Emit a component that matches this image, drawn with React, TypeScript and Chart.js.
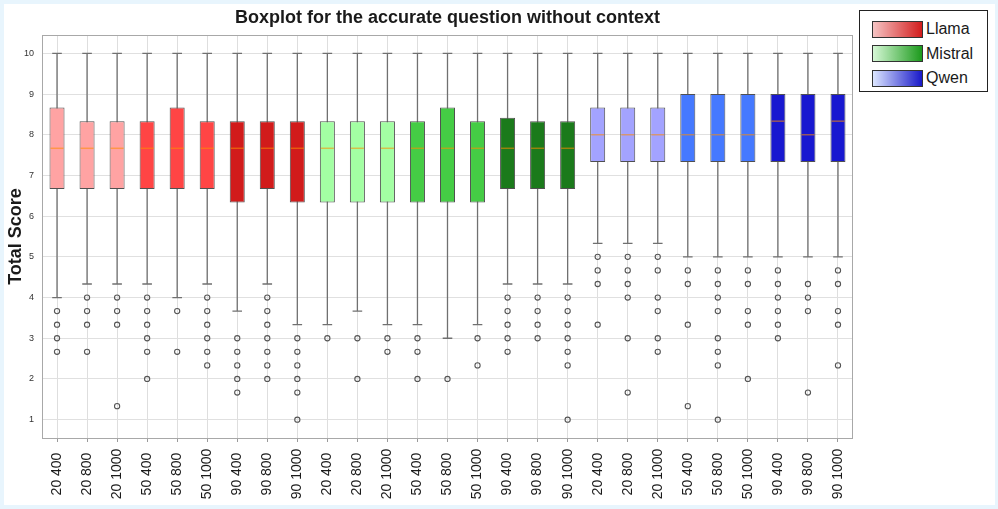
import React, { useEffect, useRef } from "react";
import { Chart, registerables } from "chart.js";

Chart.register(...registerables);

const categories = [
  "20 400", "20 800", "20 1000", "50 400", "50 800", "50 1000", "90 400", "90 800", "90 1000",
  "20 400", "20 800", "20 1000", "50 400", "50 800", "50 1000", "90 400", "90 800", "90 1000",
  "20 400", "20 800", "20 1000", "50 400", "50 800", "50 1000", "90 400", "90 800", "90 1000",
];

const q1 = [
  6.667, 6.667, 6.667, 6.667, 6.667, 6.667, 6.333, 6.667, 6.333,
  6.333, 6.333, 6.333, 6.333, 6.333, 6.333, 6.667, 6.667, 6.667,
  7.333, 7.333, 7.333, 7.333, 7.333, 7.333, 7.333, 7.333, 7.333,
];
const q3 = [
  8.667, 8.333, 8.333, 8.333, 8.667, 8.333, 8.333, 8.333, 8.333,
  8.333, 8.333, 8.333, 8.333, 8.667, 8.333, 8.417, 8.333, 8.333,
  8.667, 8.667, 8.667, 9, 9, 9, 9, 9, 9,
];
const medians = [
  7.667, 7.667, 7.667, 7.667, 7.667, 7.667, 7.667, 7.667, 7.667,
  7.667, 7.667, 7.667, 7.667, 7.667, 7.667, 7.667, 7.667, 7.667,
  8, 8, 8, 8, 8, 8, 8.333, 8, 8.333,
];
const whiskerLow = [
  4, 4.333, 4.333, 4.333, 4, 4.333, 3.667, 4.333, 3.333,
  3.333, 3.667, 3.333, 3.333, 3, 3.333, 4.333, 4.333, 4.333,
  5.333, 5.333, 5.333, 5, 5, 5, 5, 5, 5,
];
const whiskerHigh = [
  10, 10, 10, 10, 10, 10, 10, 10, 10,
  10, 10, 10, 10, 10, 10, 10, 10, 10,
  10, 10, 10, 10, 10, 10, 10, 10, 10,
];
const outliers: number[][] = [
  [3.667, 3.333, 3, 2.667],
  [4, 3.667, 3.333, 2.667],
  [4, 3.667, 3.333, 1.333],
  [4, 3.667, 3.333, 3, 2.667, 2],
  [3.667, 2.667],
  [4, 3.667, 3.333, 3, 2.667, 2.333],
  [3, 2.667, 2.333, 2, 1.667],
  [4, 3.667, 3.333, 3, 2.667, 2.333, 2],
  [3, 2.667, 2.333, 2, 1.667, 1],
  [3],
  [3, 2],
  [3, 2.667],
  [3, 2.667, 2],
  [2],
  [3, 2.333],
  [4, 3.667, 3.333, 3, 2.667],
  [4, 3.667, 3.333, 3],
  [4, 3.667, 3.333, 3, 2.667, 2.333, 1],
  [5, 4.667, 4.333, 3.333],
  [5, 4.667, 4.333, 4, 3, 1.667],
  [5, 4.667, 4, 3.667, 3, 2.667],
  [4.667, 4.333, 3.333, 1.333],
  [4.667, 4.333, 4, 3.667, 3, 2.667, 2.333, 1],
  [4.667, 4.333, 3.667, 3.333, 2],
  [4.667, 4.333, 4, 3.667, 3.333, 3],
  [4.333, 4, 3.667, 1.667],
  [4.667, 4.333, 3.667, 3.333, 2.333],
];
const yTicks = [1, 2, 3, 4, 5, 6, 7, 8, 9, 10];
const models = ["Llama", "Mistral", "Qwen"];

const boxColors = [
  "#ffa3a3", "#ffa3a3", "#ffa3a3", "#ff4545", "#ff4545", "#ff4545", "#d11b1b", "#d11b1b", "#d11b1b",
  "#a3ffa3", "#a3ffa3", "#a3ffa3", "#45cc45", "#45cc45", "#45cc45", "#1b7a1b", "#1b7a1b", "#1b7a1b",
  "#a3a3ff", "#a3a3ff", "#a3a3ff", "#4579ff", "#4579ff", "#4579ff", "#1818d0", "#1818d0", "#1818d0",
];
const legendGradients = [
  "linear-gradient(to right, #f6c4c4, #d21c1c)",
  "linear-gradient(to right, #d6f8d6, #1c9a1c)",
  "linear-gradient(to right, #dce6ff, #1818c8)",
];

const FONT = "'Liberation Sans', Arial, Helvetica, sans-serif";

// unique keys for the category axis (labels repeat across models)
const keys = categories.map((c, i) => `${models[Math.floor(i / 9)]} ${c}`);

export default function App() {
  const ref = useRef<HTMLCanvasElement | null>(null);

  useEffect(() => {
    if (!ref.current) return;
    const scatterData: { x: string; y: number }[] = [];
    outliers.forEach((arr, i) => arr.forEach((v) => scatterData.push({ x: keys[i], y: v })));

    const boxPlugin = {
      id: "boxparts",
      beforeDatasetsDraw(chart: any) {
        const ctx = chart.ctx;
        const xs = chart.scales.x;
        const ys = chart.scales.y;
        const step = xs.getPixelForValue(1) - xs.getPixelForValue(0);
        const cap = step * 0.16;
        ctx.save();
        ctx.strokeStyle = "#707070";
        ctx.lineWidth = 1.3;
        categories.forEach((_, i) => {
          const x = xs.getPixelForValue(i);
          const yl = ys.getPixelForValue(whiskerLow[i]);
          const yh = ys.getPixelForValue(whiskerHigh[i]);
          ctx.beginPath();
          ctx.moveTo(x, yl);
          ctx.lineTo(x, yh);
          ctx.moveTo(x - cap, yl);
          ctx.lineTo(x + cap, yl);
          ctx.moveTo(x - cap, yh);
          ctx.lineTo(x + cap, yh);
          ctx.stroke();
        });
        ctx.restore();
      },
      afterDatasetsDraw(chart: any) {
        const ctx = chart.ctx;
        const xs = chart.scales.x;
        const ys = chart.scales.y;
        const step = xs.getPixelForValue(1) - xs.getPixelForValue(0);
        ctx.save();
        ctx.strokeStyle = "rgba(255,140,0,0.55)";
        ctx.lineWidth = 1.5;
        categories.forEach((_, i) => {
          const x = xs.getPixelForValue(i);
          const y = ys.getPixelForValue(medians[i]);
          ctx.beginPath();
          ctx.moveTo(x - step * 0.25 + 1, y);
          ctx.lineTo(x + step * 0.25 - 1, y);
          ctx.stroke();
        });
        const a = chart.chartArea;
        ctx.strokeStyle = "#a8a8a8";
        ctx.lineWidth = 1;
        ctx.strokeRect(a.left + 0.5, a.top + 0.5, a.right - a.left - 1, a.bottom - a.top);
        ctx.restore();
      },
      afterDraw(chart: any) {
        const ctx = chart.ctx;
        const xs = chart.scales.x;
        ctx.save();
        ctx.font = `14px ${FONT}`;
        ctx.fillStyle = "#1a1a1a";
        ctx.textAlign = "center";
        ctx.textBaseline = "middle";
        categories.forEach((lab, i) => {
          const x = xs.getPixelForValue(i);
          ctx.save();
          ctx.translate(x, 474);
          ctx.rotate(-Math.PI / 2);
          ctx.fillText(lab, 0, 0);
          ctx.restore();
        });
        ctx.restore();
      },
    };

    const chart = new Chart(ref.current, {
      type: "bar",
      data: {
        labels: keys,
        datasets: [
          {
            type: "bar",
            data: categories.map((_, i) => [q1[i], q3[i]]) as any,
            backgroundColor: boxColors,
            borderColor: "#505050",
            borderWidth: 1,
            borderSkipped: false,
            barPercentage: 0.5,
            categoryPercentage: 1,
            grouped: false,
            order: 2,
          } as any,
          {
            type: "scatter",
            data: scatterData as any,
            pointRadius: 2.6,
            pointHoverRadius: 2.6,
            pointBackgroundColor: "rgba(0,0,0,0)",
            pointBorderColor: "#555555",
            pointBorderWidth: 1.1,
            showLine: false,
            order: 1,
          } as any,
        ],
      },
      options: {
        responsive: false,
        animation: false,
        events: [],
        layout: { padding: { left: 0, right: 145, top: 0, bottom: 0 } },
        plugins: {
          legend: { display: false },
          tooltip: { enabled: false },
          title: {
            display: true,
            fullSize: false,
            text: "Boxplot for the accurate question without context",
            color: "#1a1a1a",
            font: { family: FONT, size: 18, weight: "bold", lineHeight: 1.2 },
            padding: { top: 7, bottom: 6.4 },
          },
        },
        scales: {
          x: {
            type: "category",
            offset: true,
            grid: { color: "#dedede", offset: false, drawTicks: true, tickLength: 4, tickColor: "#9a9a9a" },
            border: { display: false },
            ticks: { display: false, autoSkip: false },
            afterFit: (s: any) => {
              s.height = 71;
            },
          } as any,
          y: {
            type: "linear",
            min: 0.55,
            max: 10.45,
            afterBuildTicks: (s: any) => {
              s.ticks = yTicks.map((v) => ({ value: v }));
            },
            ticks: {
              includeBounds: false,
              stepSize: 1,
              color: "#333333",
              font: { family: FONT, size: 9 },
              padding: 8,
            },
            grid: { color: "#e0e0e0", drawTicks: false },
            border: { display: false },
            title: {
              display: true,
              text: "Total Score",
              color: "#1a1a1a",
              font: { family: FONT, size: 18, weight: "bold" },
              padding: { top: 5, bottom: 0 },
            },
            afterFit: (s: any) => {
              s.width = 42;
            },
          } as any,
        },
      },
      plugins: [boxPlugin],
    });
    return () => chart.destroy();
  }, []);

  return (
    <div style={{ position: "fixed", left: 0, top: 0, width: 998, height: 509, background: "#e8f5fd" }}>
      <div style={{ position: "absolute", left: 4, top: 4, width: 991, height: 501, background: "#ffffff" }} />
      <canvas ref={ref} width={998} height={509} style={{ position: "absolute", left: 0, top: 0, width: 998, height: 509 }} />
      <div
        style={{
          position: "absolute",
          left: 859,
          top: 10,
          width: 127,
          height: 80,
          border: "1px solid #222",
          background: "#fff",
          fontFamily: FONT,
          fontSize: 16,
          color: "#1a1a1a",
        }}
      >
        {models.map((m, i) => (
          <div key={m} style={{ position: "absolute", left: 12, top: 9 + i * 24.5, height: 18, display: "flex", alignItems: "center" }}>
            <div
              style={{
                width: 49,
                height: 15,
                border: "1.5px solid #333",
                background: legendGradients[i],
              }}
            />
            <span style={{ marginLeft: 3, lineHeight: "18px" }}>{m}</span>
          </div>
        ))}
      </div>
    </div>
  );
}
